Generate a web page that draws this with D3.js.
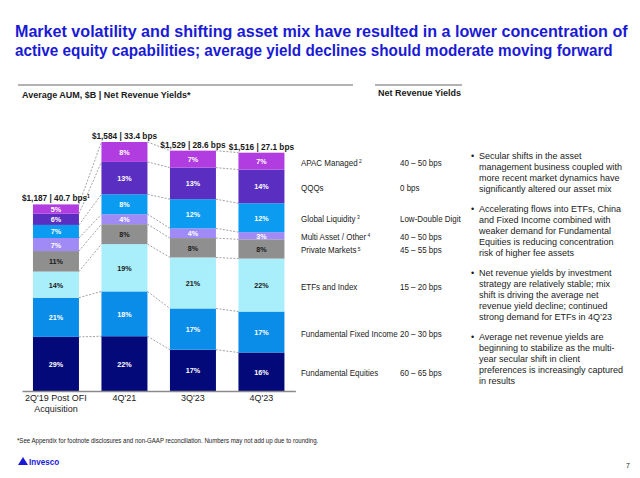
<!DOCTYPE html>
<html><head><meta charset="utf-8">
<script src="https://cdn.jsdelivr.net/npm/d3@7"></script>
<style>body{margin:0;background:#fff}svg{display:block}text{font-family:"Liberation Sans",Arial,sans-serif}</style>
</head><body><svg id="c" width="640" height="478"></svg>
<script>
// ---------------- data ----------------
const categories = ["2Q'19 Post OFI Acquisition", "4Q'21", "3Q'23", "4Q'23"];
const categoryLines = [["2Q'19 Post OFI", "Acquisition"], ["4Q'21"], ["3Q'23"], ["4Q'23"]];
const aum = [1187, 1584, 1529, 1516];
const yieldBps = [40.7, 33.4, 28.6, 27.1];
const topNotes = ["1", "", "", ""];

// stacked from bottom to top
const seriesNames = ["Fundamental Equities", "Fundamental Fixed Income", "ETFs and Index", "Private Markets",
  "Multi Asset / Other", "Global Liquidity", "QQQs", "APAC Managed"];
const seriesNotes = ["", "", "", "5", "4", "3", "", "2"];
const seriesYields = ["60 – 65 bps", "20 – 30 bps", "15 – 20 bps", "45 – 55 bps", "40 – 50 bps",
  "Low-Double Digit", "0 bps", "40 – 50 bps"];
const fundamentalEquities = [29, 22, 17, 16];
const fundamentalFixedIncome = [21, 18, 17, 17];
const etfsIndex = [14, 19, 21, 22];
const privateMarkets = [11, 8, 8, 8];
const multiAsset = [7, 4, 4, 3];
const globalLiquidity = [7, 8, 12, 12];
const qqqs = [6, 13, 13, 14];
const apacManaged = [5, 8, 7, 7];
const seriesValues = [fundamentalEquities, fundamentalFixedIncome, etfsIndex, privateMarkets,
  multiAsset, globalLiquidity, qqqs, apacManaged];

const titleLines = ["Market volatility and shifting asset mix have resulted in a lower concentration of",
  "active equity capabilities; average yield declines should moderate moving forward"];
const bullets = [
  ["Secular shifts in the asset", "management business coupled with", "more recent market dynamics have", "significantly altered our asset mix"],
  ["Accelerating flows into ETFs, China", "and Fixed Income combined with", "weaker demand for Fundamental", "Equities is reducing concentration", "risk of higher fee assets"],
  ["Net revenue yields by investment", "strategy are relatively stable; mix", "shift is driving the average net", "revenue yield decline; continued", "strong demand for ETFs in 4Q’23"],
  ["Average net revenue yields are", "beginning to stabilize as the multi-", "year secular shift in client", "preferences is increasingly captured", "in results"]
];

// ---------------- styles ----------------
const colors = ["#04097a", "#0a8de9", "#a9eefb", "#8f8f8f", "#a08bf6", "#0b9cf1", "#5a2ec1", "#b13de0"];
const labelColors = ["#fff", "#fff", "#1a1a1a", "#1a1a1a", "#fff", "#fff", "#fff", "#fff"];

const svg = d3.select("#c");
function txt(x, y, s, o = {}) {
  const size = o.size || 9;
  const t = svg.append("text")
    .attr("transform", `translate(${x},${y}) scale(${o.sx || 1},1)`)
    .attr("font-size", size)
    .attr("font-weight", o.weight || "normal")
    .attr("fill", o.fill || "#1a1a1a")
    .attr("text-anchor", o.anchor || "start")
    .text(s);
  if (o.sup) {
    t.append("tspan").attr("font-size", size * 0.62).attr("dy", -size * 0.35).text((o.supGap ? " " : "") + o.sup);
  }
  return t;
}

// title
const titleWidths = [613, 598];
titleLines.forEach((s, i) => {
  const t = svg.append("text").attr("x", 0).attr("y", 0)
    .attr("font-size", 17).attr("font-weight", "bold").attr("fill", "#1a1ad6").text(s);
  const w = t.node().getComputedTextLength();
  t.attr("transform", `translate(15,${37 + i * 19}) scale(${titleWidths[i] / w},1)`);
});

// header lines
svg.append("line").attr("x1", 18).attr("x2", 353).attr("y1", 85).attr("y2", 85).attr("stroke", "#9a9a9a").attr("stroke-width", 1.5);
svg.append("line").attr("x1", 375).attr("x2", 462).attr("y1", 85).attr("y2", 85).attr("stroke", "#9a9a9a").attr("stroke-width", 1.5);
txt(22, 98, "Average AUM, $B | Net Revenue Yields*", { size: 9, weight: "bold" });
txt(378, 96, "Net Revenue Yields", { size: 9, weight: "bold" });

// scales
const x = d3.scaleBand().domain(categories).range([22, 295.4]).paddingInner(0.3285).paddingOuter(0.16);
const y = d3.scaleLinear().domain([0, d3.max(aum)]).range([391, 142]);

// stacked geometry (normalised shares of AUM)
const stacks = categories.map((c, i) => {
  const tot = d3.sum(seriesValues, s => s[i]);
  let acc = 0;
  return seriesValues.map((s, k) => {
    const v0 = acc; acc += s[i] / tot * aum[i];
    return { cat: c, k, pct: s[i], y0: y(v0), y1: y(acc) };
  });
});

// connectors
const conn = svg.append("g").attr("stroke", "#8a8a8a").attr("stroke-width", 0.8).attr("stroke-dasharray", "2,1.5");
for (let i = 0; i < categories.length - 1; i++) {
  for (let k = 0; k < seriesNames.length; k++) {
    const a = stacks[i][k], b = stacks[i + 1][k];
    conn.append("line")
      .attr("x1", x(categories[i]) + x.bandwidth()).attr("y1", a.y1)
      .attr("x2", x(categories[i + 1])).attr("y2", b.y1);
  }
}

// bars
const gb = svg.append("g");
stacks.forEach(st => {
  gb.selectAll(null).data(st).join("rect")
    .attr("x", d => x(d.cat)).attr("width", x.bandwidth())
    .attr("y", d => d.y1).attr("height", d => d.y0 - d.y1)
    .attr("fill", d => colors[d.k]);
  st.forEach(d => {
    txt(x(d.cat) + x.bandwidth() / 2, (d.y0 + d.y1) / 2 + 3, d.pct + "%",
      { size: 8, weight: "bold", anchor: "middle", fill: labelColors[d.k], sx: 0.9 });
  });
});

// totals
categories.forEach((c, i) => {
  txt(x(c) + x.bandwidth() / 2, y(aum[i]) - 3, `$${d3.format(",")(aum[i])} | ${yieldBps[i]} bps`,
    { size: 9.5, weight: "bold", anchor: "middle", sx: 0.87, sup: topNotes[i] || null });
});

// axis
const ax = svg.append("g").attr("transform", "translate(0,391)").call(d3.axisBottom(x).tickSize(0).tickFormat(""));
ax.select(".domain").attr("stroke", "#8a8a8a").attr("stroke-width", 1.3);
categories.forEach((c, i) => {
  categoryLines[i].forEach((l, j) => txt(x(c) + x.bandwidth() / 2, 401 + j * 11, l, { size: 9, anchor: "middle" }));
});

// legend / yields (aligned to last bar's segments)
const last = stacks[stacks.length - 1];
seriesNames.forEach((n, k) => {
  const cy = (last[k].y0 + last[k].y1) / 2 + 4.5;
  txt(301, cy, n, { size: 8.5, sx: 0.94, sup: seriesNotes[k] || null, supGap: true });
  txt(400, cy, seriesYields[k], { size: 8.5, sx: 0.94 });
});

// bullets
const bulletStarts = [159, 212, 276, 340];
bullets.forEach((b, i) => {
  txt(471, bulletStarts[i], "•", { size: 9 });
  b.forEach((l, j) => txt(479, bulletStarts[i] + j * 11.1, l, { size: 9 }));
});

// footer
txt(17, 443, "*See Appendix for footnote disclosures and non-GAAP reconciliation. Numbers may not add up due to rounding.", { size: 7, sx: 0.87 });
svg.append("path").attr("d", "M18,465 L23,457 L28,465 Z").attr("fill", "#1a1ad6");
txt(29, 465, "Invesco", { size: 9, weight: "bold", fill: "#1a1ad6", sx: 0.9 });
txt(626, 468, "7", { size: 7 });
</script></body></html>
